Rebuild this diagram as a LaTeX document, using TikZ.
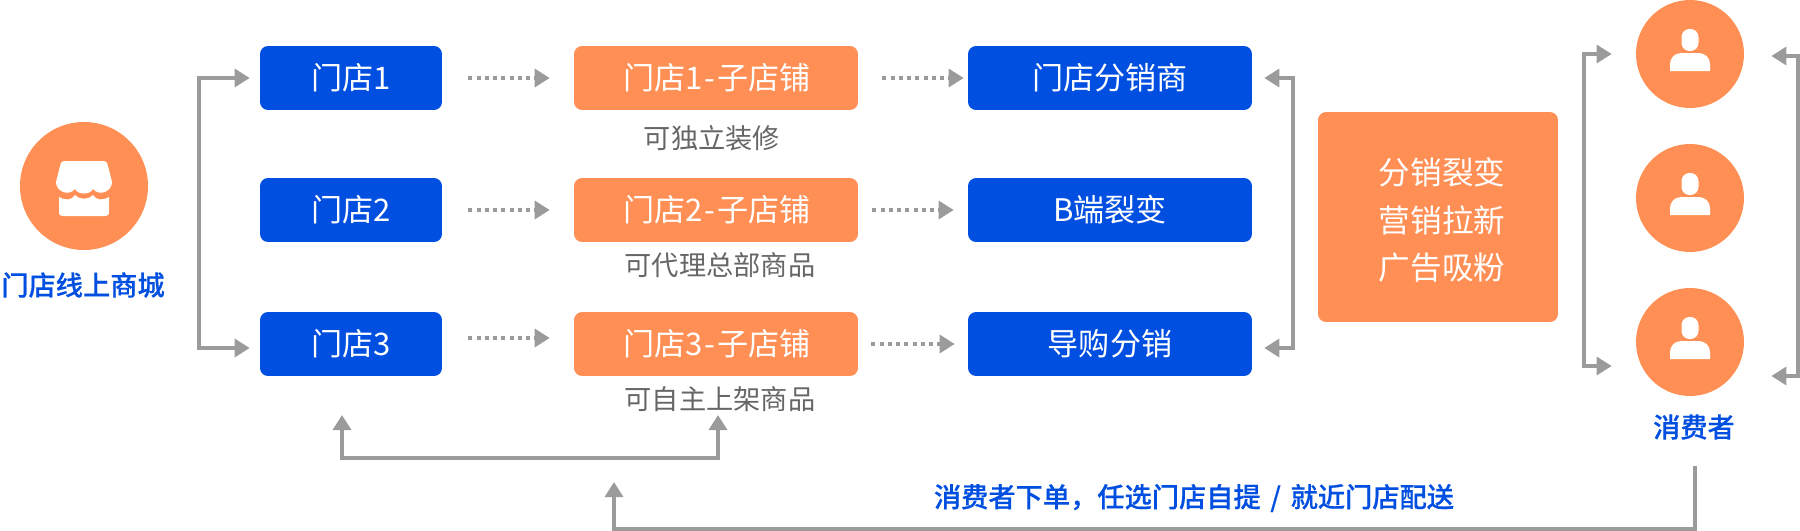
\documentclass[tikz,border=0pt]{standalone}
\usepackage{fontspec}
\setmainfont{Noto Sans CJK SC}
\newfontfamily\mediumfont[FakeBold=0.4]{Noto Sans CJK SC Medium}
\usetikzlibrary{arrows.meta}
\definecolor{royal}{HTML}{004FE0}
\definecolor{peach}{HTML}{FF8F54}
\definecolor{steel}{HTML}{9B9B9B}
\definecolor{slate}{HTML}{666666}
\tikzset{
  >={Triangle[length=0.3cm,width=0.36cm]},
  box/.style={fill=#1,text=white,rounded corners=0.16cm,minimum height=1.28cm,
    inner sep=0pt,align=center,font=\fontsize{17.7}{20}\selectfont},
  box/.default=royal,
  shopbox/.style={box=royal,minimum width=3.64cm},
  subbox/.style={box=peach,minimum width=5.68cm},
  endbox/.style={box=royal,minimum width=5.68cm},
  disc/.style={circle,fill=peach,inner sep=0pt,minimum size=#1},
  tag/.style={font=\fontsize{15.5}{18}\selectfont,text=slate,inner sep=0pt},
  caption/.style={font=\fontsize{15.5}{18}\selectfont\mediumfont,text=royal,inner sep=0pt},
  flow/.style={draw=steel,line width=0.065cm},
  dotflow/.style={->,draw=steel,line width=0.065cm,dash pattern=on 0.08cm off 0.085cm},
  % pictograms
  pics/shopicon/.style={code={
    \fill[white] (-20,-25) -- (20,-25) .. controls (23,-25) and (23,-23) .. (24,-20) -- (28,-4)
      .. controls (28,5) and (16,11) .. (9,3) .. controls (6,9) and (-6,9) .. (-9,3)
      .. controls (-16,11) and (-28,5) .. (-28,-4) -- (-24,-20) .. controls (-23,-23) and (-23,-25) .. (-20,-25) -- cycle;
    \fill[white] (-25,11) .. controls (-18,15) and (-12,14) .. (-9,9) .. controls (-5,14) and (5,14) .. (9,9)
      .. controls (12,14) and (18,15) .. (25,11) -- (25,25) .. controls (25,29) and (24,30) .. (20,30)
      -- (-20,30) .. controls (-24,30) and (-25,29) .. (-25,25) -- cycle;
  }},
  pics/usericon/.style={code={
    \fill[white,rounded corners=0.16cm] (-8.5,-25) rectangle (8.5,-3);
    \fill[white] (-20,17) [rounded corners=0.22cm] -- (-20,-1) -- (20,-1) [sharp corners] -- (20,17) -- cycle;
  }},
}
\begin{document}
\begin{tikzpicture}[x=0.02cm,y=-0.02cm]
  \path[use as bounding box] (0,0) rectangle (1800,530.4);
  % store
  \node[disc=2.56cm] (store) at (84,186) {};
  \pic at (store.center) {shopicon};
  \node[caption] (storetext) at (83,285) {门店线上商城};
  % three rows
  \foreach \y/\n/\last [count=\i] in {78/1/门店分销商,210/2/B端裂变,344/3/导购分销}{
    \node[shopbox] (shop\i) at (351,\y) {门店\n};
    \node[subbox] (sub\i) at (716,\y) {\kern1.5pt门店\n\kern1pt-\kern1pt子店铺};
    \node[endbox] (end\i) at (1110,\y) {\last};
  }
  \node[tag] (subtext1) at (712,138) {可独立装修};
  \node[tag] (subtext2) at (720,265) {可代理总部商品};
  \node[tag] (subtext3) at (720,399) {可自主上架商品};
  % big box
  \node[box=peach,minimum width=4.8cm,minimum height=4.2cm] (growth) at (1438,217) {};
  \node[inner sep=0pt,text=white,align=center,font=\fontsize{18}{27.2}\selectfont] (growthtext) at (1442,220) {分销裂变\\营销拉新\\广告吸粉};
  % consumers
  \foreach \y [count=\i] in {54,198,342}{
    \node[disc=2.16cm] (user\i) at (1690,\y) {};
    \pic at (user\i.center) {usericon};
  }
  \node[caption] (usertext) at (1694,427) {消费者};
  \node[caption] (ordertext) at (1194,498) {消费者下单，任选门店自提\kern5.5pt/\kern5.5pt就近门店配送};
  % coordinates
  \coordinate (storetop) at (199,78);
  \coordinate (storebot) at (199,348);
  \coordinate (growthtop) at (1293,78);
  \coordinate (growthbot) at (1293,348);
  \coordinate (usertop) at (1584,54);
  \coordinate (userbot) at (1584,366);
  \coordinate (backtop) at (1798,56);
  \coordinate (backbot) at (1798,376);
  \coordinate (pickleft) at (342,415);
  \coordinate (pickright) at (718,415);
  \coordinate (pickmid) at (342,458);
  \coordinate (orderstart) at (1695,466);
  \coordinate (orderend) at (614,482);
  \coordinate (ordermid) at (614,529);
  % dotted arrows
  \draw[dotflow,shorten <=0.52cm,shorten >=0.48cm] (shop1) -- (sub1);
  \draw[dotflow,shorten <=0.52cm,shorten >=0.48cm] (shop2) -- (sub2);
  \draw[dotflow,shorten <=0.52cm,shorten >=0.48cm] ([yshift=0.12cm]shop3.east) -- ([yshift=0.12cm]sub3.west);
  \draw[dotflow,shorten <=0.48cm,shorten >=0.08cm] (sub1) -- (end1);
  \draw[dotflow,shorten <=0.28cm,shorten >=0.28cm] (sub2) -- (end2);
  \draw[dotflow,shorten <=0.26cm,shorten >=0.26cm] (sub3) -- (end3);
  % brackets
  \draw[flow,<->,shorten <=0.2cm,shorten >=0.2cm] (shop1.west) -- (storetop) -- (storebot) -- (shop3.west |- storebot);
  \draw[flow,<->,shorten <=0.24cm,shorten >=0.24cm] (end1.east) -- (growthtop) -- (growthbot) -- (end3.east |- growthbot);
  \draw[flow,<->,shorten <=0.48cm,shorten >=0.48cm] (user1.west) -- (usertop) -- (userbot) -- (user3.west |- userbot);
  \draw[flow,<->,shorten <=0.54cm,shorten >=0.54cm] (user1.east |- backtop) -- (backtop) -- (backbot) -- (user3.east |- backbot);
  \draw[flow,<->] (pickleft) -- (pickmid) -- (pickmid -| pickright) -- (pickright);
  \draw[flow,->] (orderstart) -- (orderstart |- ordermid) -- (ordermid) -- (orderend);
\end{tikzpicture}
\end{document}
